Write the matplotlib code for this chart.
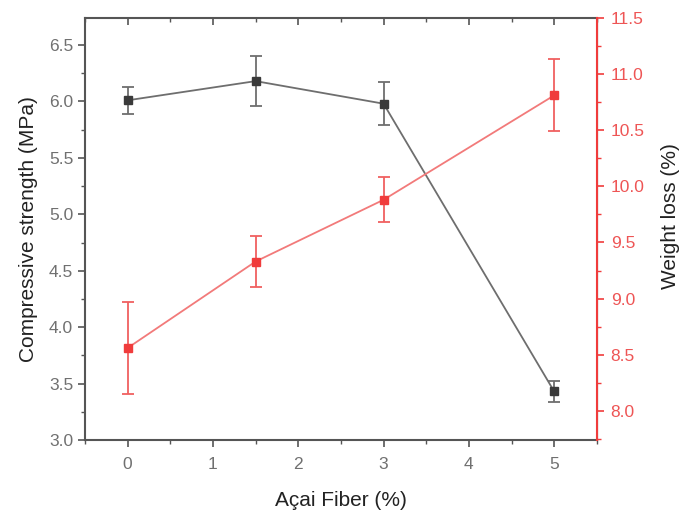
import numpy as np
import matplotlib.pyplot as plt
from matplotlib.ticker import MultipleLocator

plt.rcParams['font.family'] = ['Liberation Sans', 'DejaVu Sans']

fiber = [0, 1.5, 3, 5]
strength = [6.01, 6.18, 5.98, 3.43]
strength_err = [0.12, 0.22, 0.19, 0.09]
weight_loss = [8.56, 9.33, 9.88, 10.81]
weight_loss_err = [0.41, 0.23, 0.20, 0.32]

black = '#3a3a3a'
red = '#f03c3c'
tick_grey = '#707070'

fig = plt.figure(figsize=(6.94, 5.12), dpi=100)
ax = fig.add_axes([0.1225, 0.1406, 0.7375, 0.8244])
ax2 = ax.twinx()

ax.errorbar(fiber, strength, yerr=strength_err, color='#6e6e6e', lw=1.3,
            marker='s', ms=6, mfc=black, mec=black, capsize=4, capthick=1.3,
            elinewidth=1.3, zorder=3)
ax2.errorbar(fiber, weight_loss, yerr=weight_loss_err, color='#f27a7a', lw=1.3,
             marker='s', ms=6, mfc=red, mec=red, capsize=4, capthick=1.3,
             elinewidth=1.3, ecolor='#f06060')

ax.set_xlim(-0.5, 5.5)
ax.set_ylim(3.0, 6.74)
ax2.set_ylim(7.74, 11.5)

ax.xaxis.set_major_locator(MultipleLocator(1))
ax.xaxis.set_minor_locator(MultipleLocator(0.5))
ax.yaxis.set_major_locator(MultipleLocator(0.5))
ax.yaxis.set_minor_locator(MultipleLocator(0.25))
ax2.yaxis.set_major_locator(MultipleLocator(0.5))
ax2.yaxis.set_minor_locator(MultipleLocator(0.25))
ax.yaxis.set_major_formatter(plt.FormatStrFormatter('%.1f'))
ax2.yaxis.set_major_formatter(plt.FormatStrFormatter('%.1f'))

ax.tick_params(axis='both', which='major', labelsize=12.5, labelcolor=tick_grey,
               color='#555555', length=5, width=1.2)
ax.tick_params(axis='both', which='minor', color='#555555', length=3, width=1)
ax.tick_params(axis='x', which='both', top=True)
ax.tick_params(axis='x', which='major', pad=7)
# ticks on the top spine point into the plot
for t in ax.xaxis.get_major_ticks() + ax.xaxis.get_minor_ticks():
    t.tick2line.set_marker(3)
ax2.tick_params(axis='y', which='major', labelsize=12.5, labelcolor='#ee5555',
                color=red, length=5, width=1.2, pad=5)
ax2.tick_params(axis='y', which='minor', color=red, length=3, width=1)

for s in ['left', 'bottom', 'top']:
    ax.spines[s].set_color('#555555')
    ax.spines[s].set_linewidth(1.5)
ax2.spines['right'].set_color(red)
ax2.spines['right'].set_linewidth(1.5)
ax2.spines['top'].set_visible(False)
ax2.spines['left'].set_visible(False)
ax2.spines['bottom'].set_visible(False)

ax.set_xlabel('Açai Fiber (%)', fontsize=15, color='#222222', labelpad=14)
ax.set_ylabel('Compressive strength (MPa)', fontsize=15, color='#222222', labelpad=8)
ax2.set_ylabel('Weight loss (%)', fontsize=15, color='#222222', labelpad=12)
ax2.yaxis.label.set_y(0.53)

fig.savefig('out.png', dpi=100)
